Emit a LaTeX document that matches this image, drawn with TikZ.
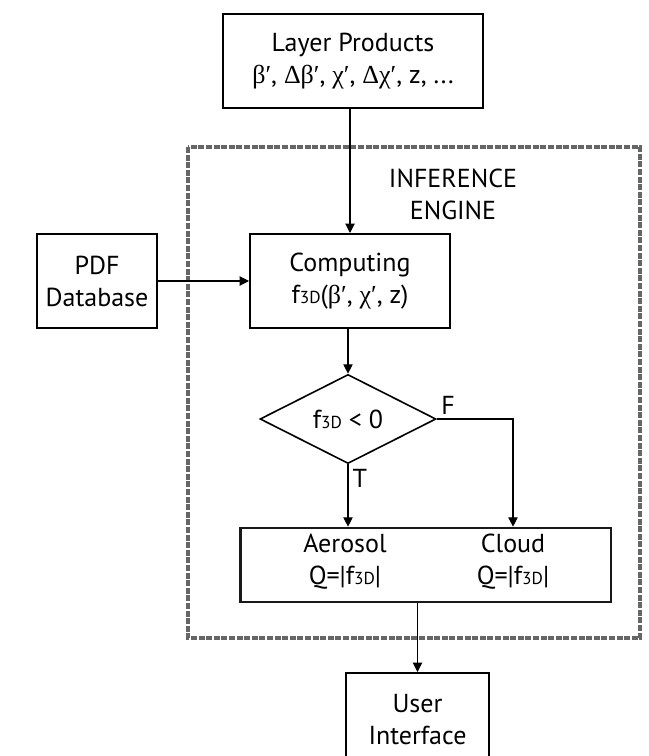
\documentclass[tikz,border=0pt]{standalone}
\usepackage{fontspec}
\setmainfont{PT Sans}
\newfontfamily\grk{Liberation Serif}
\usetikzlibrary{shapes.geometric,arrows.meta}
\newcommand{\gr}[1]{{\grk #1}}
\newcommand{\fdd}{f{\fontsize{13}{13}\selectfont 3D}}

\begin{document}
\begin{tikzpicture}[x=0.75pt,y=-0.75pt,font=\fontsize{19.5}{24}\selectfont,
  box/.style={draw,line width=1.5pt,align=center,inner sep=0pt},
  link/.style={-{Triangle[length=7pt,width=7pt]},line width=0.8pt}]
  \useasboundingbox (0,0) rectangle (649,756);
  % inference engine frame
  \draw[black!60,line width=3pt,dash pattern=on 4.5pt off 1.2pt] (188,147) rectangle (640,638);
  \node[align=center] (eng) at (453,194) {INFERENCE\\ENGINE};

  \node[box,minimum width=195pt,minimum height=70.5pt] (lay) at (353,61)
    {Layer Products\\\gr{β′}, \gr{Δβ′}, \gr{χ′}, \gr{Δχ′}, z, ...};
  \node[box,minimum width=90pt,minimum height=71pt] (pdf) at (97,281) {PDF\\Database};
  \node[box,minimum width=150pt,minimum height=70.5pt] (comp) at (350,281)
    {Computing\\\fdd(\gr{β′}, \gr{χ′}, z)};
  \node[box,diamond,line width=1.2pt,minimum width=132pt,minimum height=66pt] (dec) at (348,419) {\fdd\ < 0};
  \node[draw,black!90,line width=2pt,minimum width=278pt,minimum height=55.5pt] (res) at (425.5,565) {};
  \node[align=center] (aer) at (345,562) {Aerosol\\Q=|\fdd|};
  \node[align=center] (cld) at (513,562) {Cloud\\Q=|\fdd|};
  \node[box,minimum width=107pt,minimum height=70.5pt] (ui) at (417.5,720) {User\\Interface};

  \draw[link] (lay.south -| comp) -- (comp.north);
  \draw[link] (pdf.east) -- (pdf.east -| comp.west);
  \draw[link] (comp.south -| dec) -- (dec.north);
  \draw[link] (dec.south) node[below right,inner sep=3pt] {T} -- (dec.south |- res.north);
  \draw[link] (dec.east) node[above right,inner sep=3pt] {F} -| (cld |- res.north);
  \draw[link] (res.south -| ui) -- (ui.north);
\end{tikzpicture}
\end{document}
